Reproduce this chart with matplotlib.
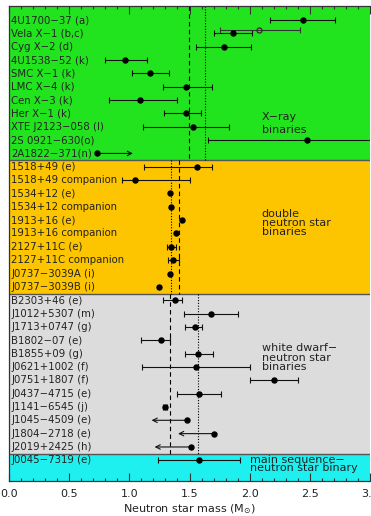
import numpy as np
import matplotlib
matplotlib.use("Agg")
import matplotlib.pyplot as plt
from matplotlib.ticker import MultipleLocator

# neutron star masses (Msun), top to bottom
names = [
    "4U1700−37 (a)", "Vela X−1 (b,c)", "Cyg X−2 (d)", "4U1538−52 (k)",
    "SMC X−1 (k)", "LMC X−4 (k)", "Cen X−3 (k)", "Her X−1 (k)",
    "XTE J2123−058 (l)", "2S 0921−630(o)", "2A1822−371(n)",
    "1518+49 (e)", "1518+49 companion", "1534+12 (e)", "1534+12 companion",
    "1913+16 (e)", "1913+16 companion", "2127+11C (e)", "2127+11C companion",
    "J0737−3039A (i)", "J0737−3039B (i)",
    "B2303+46 (e)", "J1012+5307 (m)", "J1713+0747 (g)", "B1802−07 (e)",
    "B1855+09 (g)", "J0621+1002 (f)", "J0751+1807 (f)", "J0437−4715 (e)",
    "J1141−6545 (j)", "J1045−4509 (e)", "J1804−2718 (e)", "J2019+2425 (h)",
    "J0045−7319 (e)",
]
mass = [2.44, 1.86, 1.785, 0.96, 1.17, 1.47, 1.09, 1.475, 1.53, 2.48, 0.73,
        1.56, 1.05, 1.337, 1.348, 1.44, 1.39, 1.35, 1.365, 1.337, 1.25,
        1.376, 1.68, 1.545, 1.26, 1.57, 1.553, 2.20, 1.58, 1.30, 1.48, 1.705,
        1.51, 1.58]
low = [2.17, 1.70, 1.55, 0.80, 1.02, 1.28, 0.83, 1.29, 1.11, 1.65, 0.73,
       1.12, 0.94, 1.337, 1.348, 1.44, 1.39, 1.31, 1.32, 1.337, 1.25,
       1.28, 1.455, 1.46, 1.10, 1.46, 1.105, 2.00, 1.40, 1.28, 1.48, 1.705,
       1.51, 1.24]
high = [2.71, 2.02, 2.01, 1.146, 1.33, 1.69, 1.395, 1.595, 1.83, 3.30, 0.73,
        1.69, 1.50, 1.337, 1.348, 1.44, 1.39, 1.385, 1.41, 1.337, 1.25,
        1.44, 1.90, 1.605, 1.34, 1.695, 2.00, 2.40, 1.76, 1.315, 1.48, 1.705,
        1.51, 1.92]

# limits drawn as arrows: row name -> arrow end
limit_names = ["2A1822−371(n)", "J1045−4509 (e)", "J1804−2718 (e)", "J2019+2425 (h)"]
limit_ends = [1.03, 1.185, 1.405, 1.21]

# second Vela X-1 estimate (open circle)
vela_alt = 2.08
vela_alt_low = 1.75
vela_alt_high = 2.42

# groups: first row, last row, colour, dashed mean, dotted mean
group_rows = [(0, 10), (11, 20), (21, 32), (33, 33)]
group_colors = ["#22e41e", "#fdc400", "#dcdcdc", "#1ef0f0"]
dashed_means = [1.497, 1.415, 1.34, None]
dotted_means = [1.625, 1.345, 1.57, None]
group_text = [
    ["X−ray", "binaries"],
    ["double", "neutron star", "binaries"],
    ["white dwarf−", "neutron star", "binaries"],
    ["main sequence−", "neutron star binary"],
]
text_x = [2.10, 2.10, 2.10, 2.00]
text_rows = [[7.28, 8.25], [14.55, 15.2, 15.9], [24.6, 25.35, 26.0], [33.0, 33.6]]

xticks = [0.0, 0.5, 1.0, 1.5, 2.0, 2.5, 3.0]
ytop, ybot = -1.05, 34.55

fig = plt.figure(figsize=(3.71, 5.16), dpi=100)
ax = fig.add_axes([9 / 371, 1 - 481 / 516, 361 / 371, 475 / 516])

tc = "#222222"
for k, (r0, r1) in enumerate(group_rows):
    y0 = ytop if k == 0 else r0 - 0.5
    y1 = ybot if k == len(group_rows) - 1 else r1 + 0.5
    ax.axhspan(y0, y1, color=group_colors[k], lw=0, zorder=0)
    if k > 0:
        ax.axhline(y0, color="#555555", lw=1.0, zorder=1)
    if dashed_means[k] is not None:
        ax.vlines(dashed_means[k], y0, y1, colors="k", linestyles=(0, (4, 3)), lw=0.8, zorder=2)
        ax.vlines(dotted_means[k], y0, y1, colors="k", linestyles=(0, (1, 1.5)), lw=0.8, zorder=2)
    for line, yr in zip(group_text[k], text_rows[k]):
        ax.text(text_x[k], yr, line, fontsize=8, color=tc, va="center", ha="left")

rows = np.arange(len(names))
for i, nm in enumerate(names):
    ax.text(0.018, rows[i], nm, fontsize=7.3, color=tc, va="center", ha="left")
    if high[i] > low[i]:
        ax.errorbar(mass[i], rows[i], xerr=[[mass[i] - low[i]], [high[i] - mass[i]]],
                    fmt="none", ecolor="#111111", elinewidth=0.8, capsize=1.9,
                    capthick=0.8, zorder=3)
    ax.plot(mass[i], rows[i], "o", color="k", ms=3.6, zorder=4)

for nm, end in zip(limit_names, limit_ends):
    i = names.index(nm)
    ax.annotate("", xy=(end, rows[i]), xytext=(mass[i], rows[i]),
                arrowprops=dict(arrowstyle="->", lw=0.8, color="#111111",
                                shrinkA=0, shrinkB=0, mutation_scale=8), zorder=3)

vi = names.index("Vela X−1 (b,c)")
ax.errorbar(vela_alt, vi - 0.25, xerr=[[vela_alt - vela_alt_low], [vela_alt_high - vela_alt]],
            fmt="o", mfc="none", mec="#333333", ms=3.6, ecolor="#333333",
            elinewidth=0.8, capsize=1.9, capthick=0.8, zorder=3)

ax.set_xlim(0, 3.0)
ax.set_ylim(ybot, ytop)
ax.set_yticks([])
ax.set_xticks(xticks)
ax.set_xticklabels([f"{t:.1f}" for t in xticks])
ax.xaxis.set_minor_locator(MultipleLocator(0.1))
ax.tick_params(axis="x", which="both", direction="in", top=True, colors="#333333",
               labelcolor=tc, labelsize=8, pad=6)
ax.tick_params(axis="x", which="major", length=5.5, width=0.8)
ax.tick_params(axis="x", which="minor", length=2.5, width=0.8)
ax.set_xlabel(r"Neutron star mass (M$_{\odot}$)", fontsize=8, color=tc, labelpad=2)
for s in ax.spines.values():
    s.set_color("#333333")
    s.set_linewidth(0.9)
ax.spines["right"].set_visible(False)

fig.savefig("out.png", dpi=100)
